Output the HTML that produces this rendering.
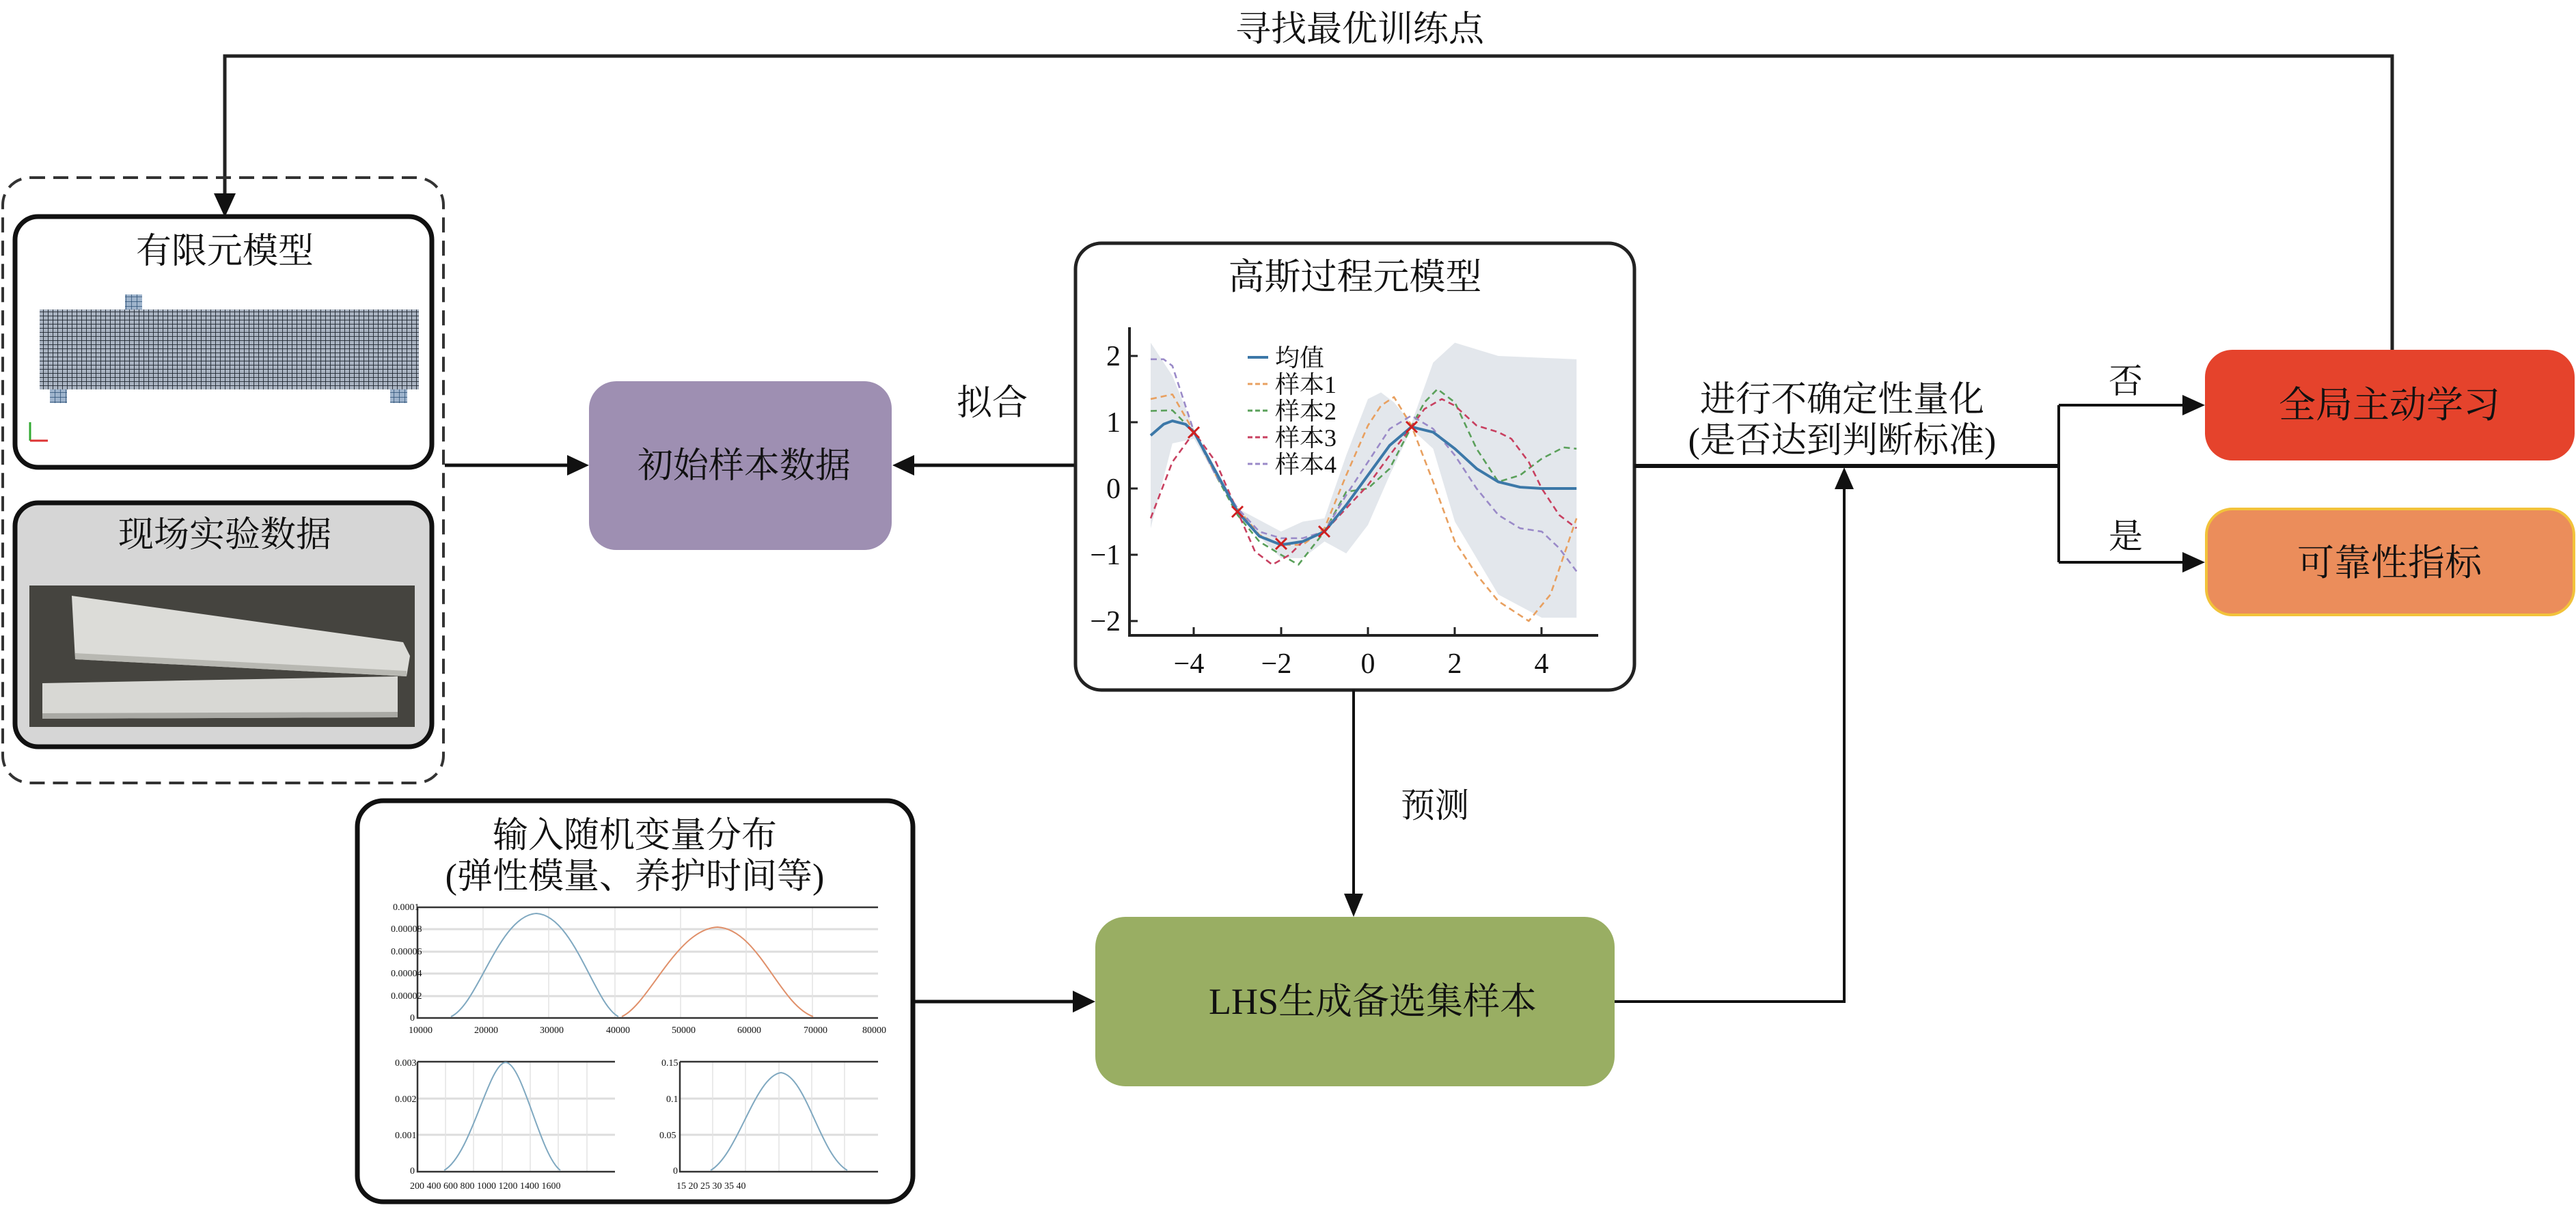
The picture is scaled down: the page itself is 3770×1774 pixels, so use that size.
<!DOCTYPE html>
<html><head><meta charset="utf-8"><style>
html,body{margin:0;padding:0;background:#fff}
svg{display:block}
text{font-family:"Liberation Serif","Noto Serif CJK SC","Noto Serif CJK SC",serif;fill:#111}
</style></head><body>
<svg width="3770" height="1774" viewBox="0 0 3770 1774" xmlns="http://www.w3.org/2000/svg" font-family="'Liberation Serif','Noto Serif CJK SC',serif">
<defs>
<pattern id="mesh" width="7" height="6" patternUnits="userSpaceOnUse">
<rect width="7" height="6" fill="#aab4c2"/>
<path d="M0 0H7M0 0V6" stroke="#1e2630" stroke-width="1.8"/>
</pattern>
<pattern id="grid2" width="8" height="7" patternUnits="userSpaceOnUse">
<rect width="8" height="7" fill="#9fb4cc"/>
<path d="M0 0H8M0 0V7" stroke="#2b4e74" stroke-width="1.5"/>
</pattern>
</defs>

<!-- top feedback loop -->
<text x="1990" y="60" font-size="52" text-anchor="middle">寻找最优训练点</text>
<path d="M3501 512 V82 H329 V290" fill="none" stroke="#222" stroke-width="5"/>
<path d="M313 283 L345 283 L329 318 Z" fill="#111"/>

<!-- dashed group -->
<rect x="4" y="260" width="645" height="886" rx="40" fill="none" stroke="#333" stroke-width="4" stroke-dasharray="22 12"/>

<!-- FE model box -->
<rect x="22" y="317" width="610" height="367" rx="34" fill="#fff" stroke="#111" stroke-width="7"/>
<text x="329" y="385" font-size="52" text-anchor="middle">有限元模型</text>
<rect x="183" y="431" width="25" height="22" fill="url(#grid2)"/>
<rect x="58" y="453" width="555" height="117" fill="url(#mesh)"/>
<rect x="73" y="570" width="25" height="20" fill="url(#grid2)"/>
<rect x="571" y="570" width="25" height="20" fill="url(#grid2)"/>
<path d="M44 645 V618" stroke="#3a3" stroke-width="3"/>
<path d="M44 645 H70" stroke="#d33" stroke-width="3"/>

<!-- Field data box -->
<rect x="22" y="736" width="610" height="357" rx="34" fill="#d6d6d6" stroke="#111" stroke-width="7"/>
<text x="329" y="800" font-size="52" text-anchor="middle">现场实验数据</text>
<rect x="43" y="857" width="564" height="207" fill="#45443f"/>
<path d="M105 872 L590 940 L600 960 L595 990 L110 965 Z" fill="#dcdcd8"/>
<path d="M110 965 L595 990 L595 982 L110 956Z" fill="#b8b8b2"/>
<path d="M62 1000 L582 990 L582 1050 L62 1052 Z" fill="#d8d8d4"/>
<path d="M62 1044 L582 1042 L582 1050 L62 1052Z" fill="#a9a9a4"/>

<!-- arrow dashed -> purple -->
<path d="M651 681 H832" stroke="#111" stroke-width="5"/>
<path d="M830 666 L862 681 L830 696Z" fill="#111"/>

<!-- purple -->
<rect x="862" y="558" width="443" height="247" rx="40" fill="#9e8fb2"/>
<text x="1089" y="699" font-size="52" text-anchor="middle">初始样本数据</text>

<!-- GP -> purple -->
<path d="M1573 681 H1336" stroke="#111" stroke-width="5"/>
<path d="M1338 666 L1306 681 L1338 696Z" fill="#111"/>
<text x="1452" y="607" font-size="52" text-anchor="middle">拟合</text>

<!-- GP box -->
<rect x="1574" y="356" width="818" height="654" rx="38" fill="#fff" stroke="#222" stroke-width="5"/>
<text x="1983" y="423" font-size="53" text-anchor="middle">高斯过程元模型</text>
<g transform="translate(2002,715) scale(63.6,-97)">
<path d="M-5 2.2 L-4.5 1.7 L-4 0.9 L-3 -0.3 L-2 -0.65 L-1.5 -0.5 L-1 -0.45 L-0.5 0.5 L0 1.35 L0.3 1.45 L0.6 1.3 L1 0.98 L1.5 1.9 L2 2.2 L3 2.0 L4.8 1.95 L4.8 -1.95 L4 -1.95 L3 -1.6 L2 -0.5 L1.5 0.6 L1 0.9 L0.5 0.2 L0 -0.55 L-0.5 -0.98 L-1 -0.8 L-1.5 -1.05 L-2 -1.05 L-3 -0.4 L-4 0.75 L-4.5 0.68 L-5 -0.6 Z" fill="#e3e7ec"/>
<g fill="none" stroke-width="2.6" stroke-dasharray="9 6" stroke-linejoin="round">
<polyline vector-effect="non-scaling-stroke" stroke="#e8a060" points="-5,1.35 -4.5,1.42 -4,0.85 -3.5,0.2 -3,-0.3 -2.5,-0.7 -2,-0.85 -1.5,-0.85 -1,-0.6 -0.5,0.2 0,0.95 0.3,1.25 0.6,1.38 1,0.95 1.5,0.1 2,-0.8 2.5,-1.3 3,-1.7 3.7,-2 4.2,-1.6 4.8,-0.45"/>
<polyline vector-effect="non-scaling-stroke" stroke="#5aa05a" points="-5,1.17 -4.5,1.18 -4,0.85 -3.5,0.2 -3,-0.4 -2.5,-0.8 -2,-1.0 -1.6,-1.15 -1,-0.65 -0.5,-0.05 0,0 0.5,0.3 1,0.93 1.3,1.3 1.6,1.5 2,1.3 2.5,0.6 3,0.1 3.5,0.2 4,0.45 4.5,0.62 4.8,0.6"/>
<polyline vector-effect="non-scaling-stroke" stroke="#c84060" points="-5,-0.45 -4.5,0.4 -4,0.85 -3.5,0.4 -3,-0.35 -2.6,-0.95 -2.2,-1.15 -1.8,-1.0 -1.5,-0.8 -1,-0.65 -0.5,-0.3 0,0.05 0.5,0.5 1,0.93 1.3,1.2 1.7,1.35 2,1.25 2.5,0.95 3,0.85 3.3,0.75 3.7,0.4 4,0 4.4,-0.4 4.8,-0.6"/>
<polyline vector-effect="non-scaling-stroke" stroke="#9a8ac8" points="-5,1.95 -4.7,1.95 -4.5,1.85 -4,0.85 -3.5,0.2 -3,-0.3 -2.5,-0.65 -2,-0.75 -1.5,-0.75 -1,-0.65 -0.5,-0.1 0,0.4 0.5,0.9 1,1.1 1.5,0.9 2,0.5 2.5,0 3,-0.4 3.5,-0.6 4,-0.65 4.4,-0.9 4.8,-1.25"/>
</g>
<polyline vector-effect="non-scaling-stroke" fill="none" stroke="#3c78a8" stroke-width="4" stroke-linejoin="round" points="-5,0.8 -4.7,0.97 -4.5,1.02 -4.2,0.97 -4,0.85 -3.5,0.25 -3,-0.35 -2.5,-0.72 -2,-0.85 -1.5,-0.8 -1,-0.65 -0.5,-0.25 0,0.2 0.5,0.65 1,0.93 1.5,0.85 2,0.6 2.5,0.3 3,0.1 3.5,0.02 4,0 4.8,0"/>
</g>
<g stroke="#d02020" stroke-width="3">
<path d="M1739 625l16 16m0-16l-16 16"/><path d="M1803 741l16 16m0-16l-16 16"/>
<path d="M1867 788l16 16m0-16l-16 16"/><path d="M1930 770l16 16m0-16l-16 16"/>
<path d="M2058 617l16 16m0-16l-16 16"/>
</g>
<path d="M1653 479 V930 H2339" fill="none" stroke="#222" stroke-width="4"/>
<g stroke="#222" stroke-width="3">
<path d="M1653 521h12M1653 618h12M1653 715h12M1653 812h12M1653 909h12"/>
<path d="M1747 930v-12M1875 930v-12M2002 930v-12M2129 930v-12M2256 930v-12"/>
</g>
<g font-size="42" text-anchor="end">
<text x="1640" y="535">2</text><text x="1640" y="632">1</text><text x="1640" y="729">0</text>
<text x="1640" y="826">−1</text><text x="1640" y="923">−2</text>
</g>
<g font-size="42" text-anchor="middle">
<text x="1740" y="985">−4</text><text x="1868" y="985">−2</text><text x="2002" y="985">0</text>
<text x="2129" y="985">2</text><text x="2256" y="985">4</text>
</g>
<g font-size="36">
<path d="M1826 523h30" stroke="#3c78a8" stroke-width="4"/>
<path d="M1826 562h30" stroke="#e8a060" stroke-width="3" stroke-dasharray="7 4"/>
<path d="M1826 601h30" stroke="#5aa05a" stroke-width="3" stroke-dasharray="7 4"/>
<path d="M1826 640h30" stroke="#c84060" stroke-width="3" stroke-dasharray="7 4"/>
<path d="M1826 679h30" stroke="#9a8ac8" stroke-width="3" stroke-dasharray="7 4"/>
<text x="1866" y="536">均值</text><text x="1866" y="575">样本1</text><text x="1866" y="614">样本2</text>
<text x="1866" y="653">样本3</text><text x="1866" y="692">样本4</text>
</g>

<path d="M2392 682 H3013" stroke="#111" stroke-width="6"/>
<text x="2696" y="602" font-size="52" text-anchor="middle">进行不确定性量化</text>
<text x="2696" y="662" font-size="52" text-anchor="middle">(是否达到判断标准)</text>
<path d="M3013 593 V823" stroke="#111" stroke-width="4"/>
<path d="M3013 593 H3196 M3013 823 H3196" stroke="#111" stroke-width="4"/>
<path d="M3194 578 L3227 593 L3194 608Z" fill="#111"/>
<path d="M3194 808 L3227 823 L3194 838Z" fill="#111"/>
<text x="3111" y="575" font-size="50" text-anchor="middle">否</text>
<text x="3111" y="802" font-size="50" text-anchor="middle">是</text>

<rect x="3227" y="512" width="541" height="162" rx="40" fill="#e5432c"/>
<text x="3497" y="611" font-size="54" text-anchor="middle">全局主动学习</text>
<rect x="3229" y="745" width="538" height="155" rx="38" fill="#eb8d5b" stroke="#f2c23a" stroke-width="4"/>
<text x="3497" y="842" font-size="54" text-anchor="middle">可靠性指标</text>

<path d="M1981 1010 V1312" stroke="#111" stroke-width="4"/>
<path d="M1967 1308 L1995 1308 L1981 1342Z" fill="#111"/>
<text x="2100" y="1196" font-size="50" text-anchor="middle">预测</text>

<rect x="1603" y="1342" width="760" height="248" rx="44" fill="#99ae63"/>
<text x="2009" y="1484" font-size="54" text-anchor="middle">LHS生成备选集样本</text>
<path d="M2363 1466 H2699 V712" fill="none" stroke="#111" stroke-width="4"/>
<path d="M2685 716 L2713 716 L2699 684Z" fill="#111"/>

<path d="M1338 1466 H1572" stroke="#111" stroke-width="5"/>
<path d="M1570 1450 L1603 1466 L1570 1482Z" fill="#111"/>

<rect x="523" y="1172" width="813" height="587" rx="38" fill="#fff" stroke="#111" stroke-width="7"/>
<text x="929" y="1240" font-size="52" text-anchor="middle">输入随机变量分布</text>
<text x="929" y="1300" font-size="52" text-anchor="middle">(弹性模量、养护时间等)</text>
<g stroke="#ddd" stroke-width="3">
<path d="M611 1360H1285M611 1393H1285M611 1425H1285M611 1458H1285"/>
</g>
<g stroke="#e4e4e4" stroke-width="1.5">
<path d="M707 1328V1490M803 1328V1490M900 1328V1490M996 1328V1490M1092 1328V1490M1189 1328V1490"/>
</g>
<path d="M611 1328H1285M611 1328V1490H1285" fill="none" stroke="#333" stroke-width="2.5"/>
<path d="M660 1488 C700 1470 730 1340 785 1337 C840 1340 870 1470 905 1488" fill="none" stroke="#7fa8c0" stroke-width="2"/>
<path d="M910 1488 C950 1470 990 1360 1050 1357 C1110 1360 1140 1470 1190 1488" fill="none" stroke="#e0906a" stroke-width="2"/>
<g font-size="14" fill="#444">
<text x="575" y="1332">0.0001</text><text x="572" y="1364">0.00008</text><text x="572" y="1397">0.00006</text>
<text x="572" y="1429">0.00004</text><text x="572" y="1462">0.00002</text><text x="600" y="1494">0</text>
<text x="598" y="1512">10000</text><text x="694" y="1512">20000</text><text x="790" y="1512">30000</text><text x="887" y="1512">40000</text>
<text x="983" y="1512">50000</text><text x="1079" y="1512">60000</text><text x="1176" y="1512">70000</text><text x="1262" y="1512">80000</text>
</g>
<g stroke="#ddd" stroke-width="3"><path d="M611 1608H900M611 1661H900"/></g>
<g stroke="#e4e4e4" stroke-width="1.5"><path d="M652 1554V1715M693 1554V1715M735 1554V1715M776 1554V1715M817 1554V1715M859 1554V1715"/></g>
<path d="M611 1554H900M611 1554V1715H900" fill="none" stroke="#333" stroke-width="2.5"/>
<path d="M650 1713 C690 1690 715 1556 740 1555 C765 1556 790 1690 820 1713" fill="none" stroke="#7fa8c0" stroke-width="2"/>
<g font-size="14" fill="#444">
<text x="578" y="1560">0.003</text><text x="578" y="1613">0.002</text><text x="578" y="1666">0.001</text><text x="600" y="1718">0</text>
<text x="600" y="1740">200 400 600 800 1000 1200 1400 1600</text>
</g>
<g stroke="#ddd" stroke-width="3"><path d="M995 1608H1285M995 1661H1285"/></g>
<g stroke="#e4e4e4" stroke-width="1.5"><path d="M1043 1554V1715M1091 1554V1715M1140 1554V1715M1188 1554V1715M1236 1554V1715"/></g>
<path d="M995 1554H1285M995 1554V1715H1285" fill="none" stroke="#333" stroke-width="2.5"/>
<path d="M1040 1713 C1080 1690 1105 1575 1143 1570 C1180 1575 1200 1690 1240 1713" fill="none" stroke="#7fa8c0" stroke-width="2"/>
<g font-size="14" fill="#444">
<text x="968" y="1560">0.15</text><text x="975" y="1613">0.1</text><text x="965" y="1666">0.05</text><text x="985" y="1718">0</text>
<text x="990" y="1740">15      20      25      30      35      40</text>
</g>
</svg>
</body></html>
